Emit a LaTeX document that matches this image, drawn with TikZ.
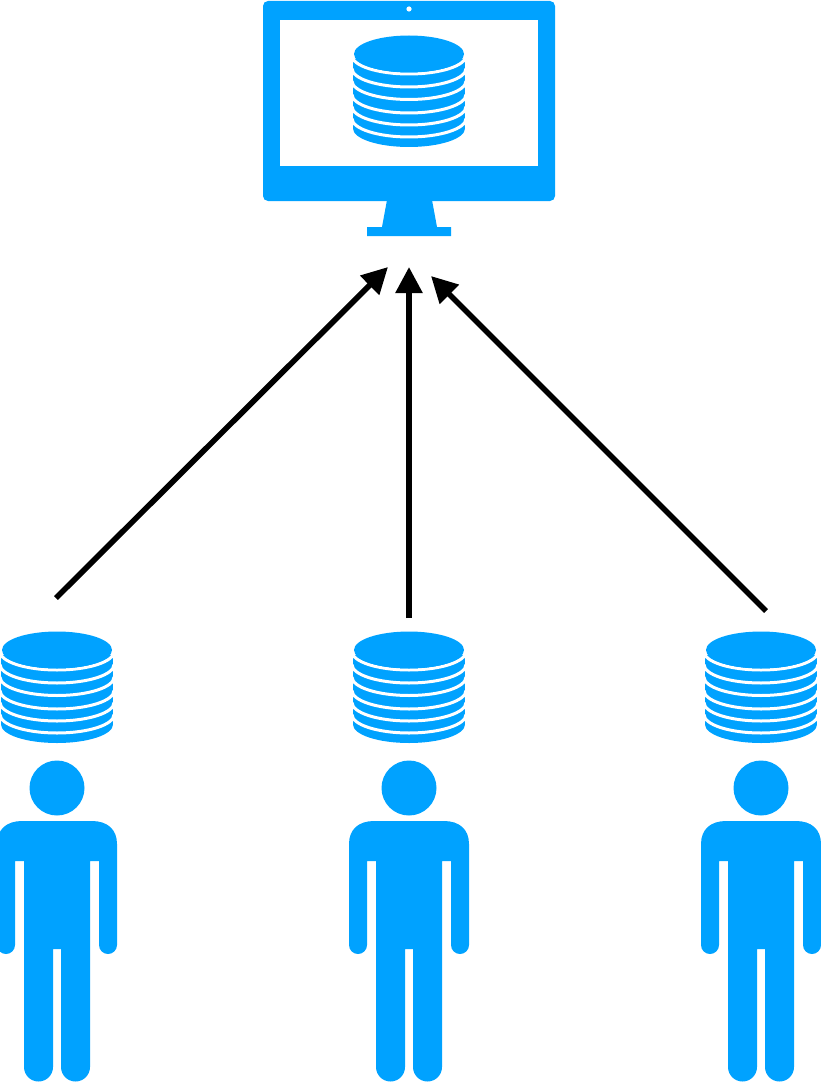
\documentclass[tikz,border=0pt]{standalone}
\usepackage{tikz}
\usetikzlibrary{arrows.meta}
\definecolor{iconblue}{HTML}{00A2FF}
\tikzset{>={Triangle[length=26pt,width=26pt]}}
\tikzset{flow/.style={->, line width=5.6pt, black}}
\tikzset{dbstack/.pic={
    \fill[iconblue](-56, 5)--(56, 5)--(56, 74.5)arc[start angle=0, end angle=180, x radius=56, y radius=18.5]--cycle;
    \foreach \dy in {1.5, 14.5, 27, 40.5, 52.5, 64.5}
        \draw[white, line width=3pt](-57, \dy)arc[start angle=180, end angle=0, x radius=57, y radius=18.5];
    \fill[white](-60, -3)rectangle(-56, 95);
    \fill[white](60, -3)rectangle(56, 95);
    \fill[iconblue](0, 0)ellipse[x radius=55, y radius=18.5];
}}
\tikzset{person/.pic={
    \fill[iconblue](0, 0)circle[radius=27.5];
    \fill[iconblue](-35, 33)--(35, 33)..controls(50, 33)and(60, 41)..(60, 56)--(60, 157)
        arc[start angle=0, end angle=180, radius=9]--(42, 73)--(33, 73)--(33, 279)
        arc[start angle=0, end angle=180, radius=14.5]--(4, 161)--(-4, 161)--(-4, 279)
        arc[start angle=0, end angle=180, radius=14.5]--(-33, 73)--(-42, 73)--(-42, 157)
        arc[start angle=0, end angle=180, radius=9]--(-60, 56)..controls(-60, 41)and(-50, 33)..cycle;
}}

\begin{document}
\begin{tikzpicture}[x=1pt, y=-1pt]
    \useasboundingbox(0, 0)rectangle(820, 1086);
    % monitor
    \fill[iconblue, rounded corners=5pt](263, 1)rectangle(555, 201);
    \fill[white](280, 20)rectangle(538, 166);
    \fill[white](409, 9)circle[radius=2.6];
    \fill[iconblue](387, 200)--(432, 200)--(437, 227)--(451, 227)--(451, 236)--(367, 236)--(367, 227)--(382, 227)--cycle;
    \pic at(409, 54){dbstack};
    % users
    \foreach \cx in {57, 409, 761}{
        \pic at(\cx, 650){dbstack};
        \pic at(\cx, 788){person};
    }
    % arrows
    \coordinate(fromleft) at(56, 598);
    \coordinate(frommid) at(409, 618);
    \coordinate(fromright) at(766, 611);
    \coordinate(toleft) at(388, 267);
    \coordinate(tomid) at(409, 267);
    \coordinate(toright) at(431, 276);
    \draw[flow](fromleft)--(toleft);
    \draw[flow](frommid)--(tomid);
    \draw[flow](fromright)--(toright);
\end{tikzpicture}
\end{document}
